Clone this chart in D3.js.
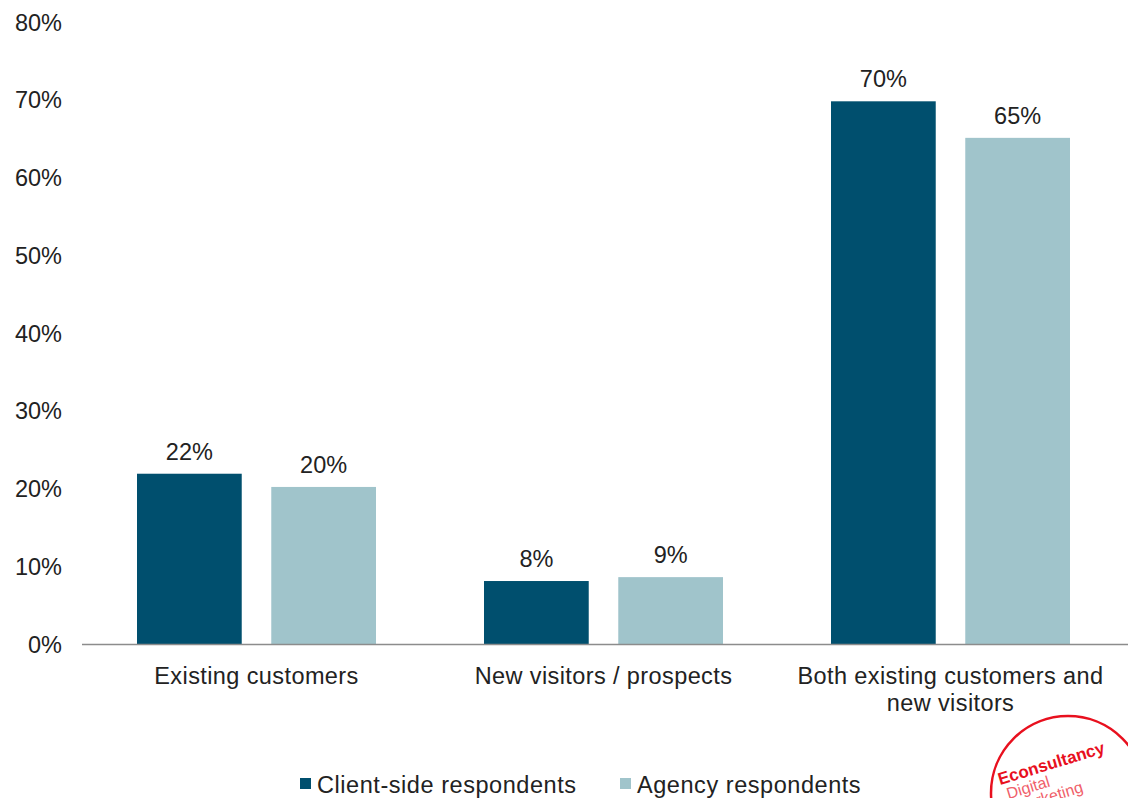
<!DOCTYPE html>
<html><head><meta charset="utf-8">
<script src="https://cdn.jsdelivr.net/npm/d3@7"></script>
<style>body{margin:0;background:#fff}svg{display:block}text{font-family:"Liberation Sans",Arial,sans-serif;fill:#222}</style>
</head><body><svg id="c" width="1128" height="798"></svg>
<script>
const categories = [["Existing customers"], ["New visitors / prospects"], ["Both existing customers and", "new visitors"]];
const seriesNames = ["Client-side respondents", "Agency respondents"];
const clientValues = [21.9, 8.1, 69.8];
const agencyValues = [20.2, 8.6, 65.1];
const clientLabels = ["22%", "8%", "70%"];
const agencyLabels = ["20%", "9%", "65%"];
const yTicks = [0, 10, 20, 30, 40, 50, 60, 70, 80];
const colors = ["#004f6e", "#a0c4cb"];

const FS = 23.5;
const svg = d3.select("#c");
const x0 = d3.scaleBand().domain(d3.range(categories.length)).range([83, 1124]).paddingInner(0).paddingOuter(0);
const x1 = d3.scaleBand().domain([0, 1]).range([54, 347 - 54]).paddingInner(0.22);
const y = d3.scaleLinear().domain([0, 80]).range([644, 22]);

// y labels
svg.append("g").selectAll("text").data(yTicks).join("text")
  .attr("x", 62).attr("y", d => y(d) + 8.5).attr("text-anchor", "end")
  .attr("font-size", FS).text(d => d + "%");

const series = [
  {vals: clientValues, labs: clientLabels},
  {vals: agencyValues, labs: agencyLabels}
];
series.forEach((s, si) => {
  const g = svg.append("g");
  g.selectAll("rect").data(s.vals).join("rect")
    .attr("x", (d, i) => x0(i) + x1(si)).attr("width", x1.bandwidth())
    .attr("y", d => y(d)).attr("height", d => y(0) - y(d))
    .attr("fill", colors[si]);
  g.selectAll("text").data(s.vals).join("text")
    .attr("x", (d, i) => x0(i) + x1(si) + x1.bandwidth() / 2)
    .attr("y", d => y(d) - 14).attr("text-anchor", "middle").attr("font-size", FS)
    .text((d, i) => s.labs[i]);
});

// baseline
svg.append("line").attr("x1", 82).attr("x2", 1128).attr("y1", y(0) + 0.5).attr("y2", y(0) + 0.5)
  .attr("stroke", "#8c8c8c").attr("stroke-width", 1.5);

// category labels
categories.forEach((lines, i) => {
  const cx = x0(i) + x0.bandwidth() / 2;
  const t = svg.append("text").attr("x", cx).attr("y", 684)
    .attr("text-anchor", "middle").attr("font-size", FS).attr("letter-spacing", 0.4);
  lines.forEach((l, j) => t.append("tspan").attr("x", cx).attr("dy", j ? 27 : 0).text(l));
});

// legend
const legX = [300, 620];
seriesNames.forEach((n, i) => {
  svg.append("rect").attr("x", legX[i]).attr("y", 778).attr("width", 11).attr("height", 11).attr("fill", colors[i]);
  svg.append("text").attr("x", legX[i] + 17).attr("y", 793).attr("font-size", FS).attr("letter-spacing", 0.55).text(n);
});

// logo
const logo = svg.append("g");
logo.append("circle").attr("cx", 1068).attr("cy", 793).attr("r", 77).attr("fill", "none").attr("stroke", "#e8101e").attr("stroke-width", 2.5);
const lt = logo.append("g").attr("transform", "translate(1000,785) rotate(-17)");
lt.append("text").attr("x", 0).attr("y", 0).attr("font-size", 17).attr("font-weight", "bold").style("fill", "#e8101e").text("Econsultancy");
lt.append("text").attr("x", 4).attr("y", 16).attr("font-size", 16).style("fill", "#f0606a").text("Digital");
lt.append("text").attr("x", 8).attr("y", 31).attr("font-size", 16).style("fill", "#f0606a").text("Marketing");
</script></body></html>
